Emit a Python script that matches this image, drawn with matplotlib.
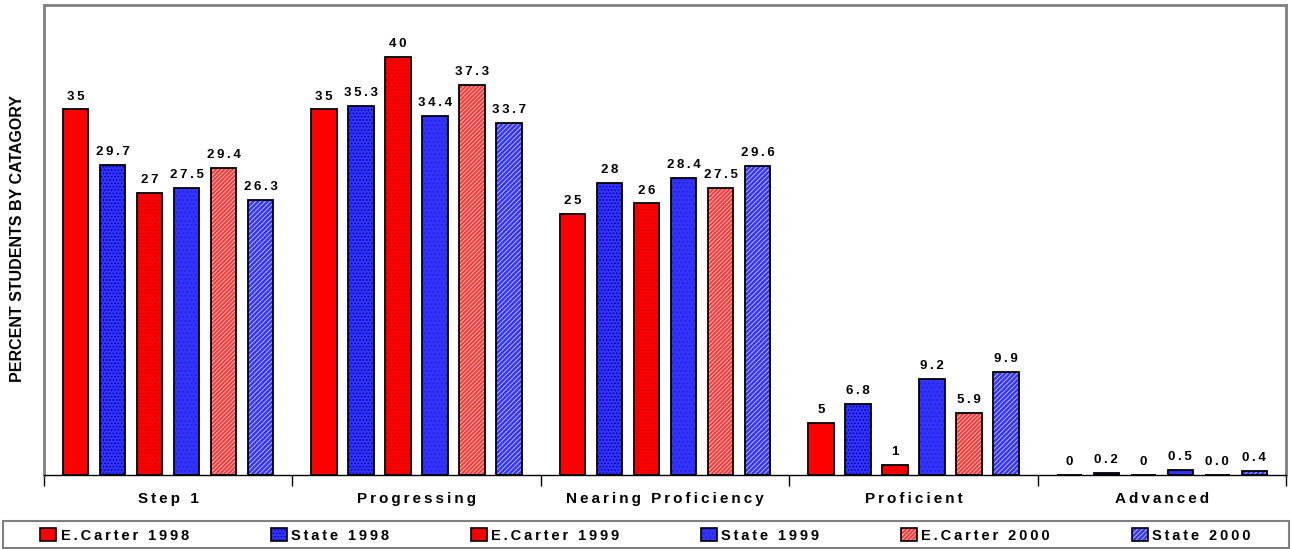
import matplotlib
matplotlib.use('Agg')
import matplotlib.pyplot as plt
from matplotlib.patches import Patch, Rectangle
import numpy as np

# data
categories = ['Step 1', 'Progressing', 'Nearing Proficiency', 'Proficient', 'Advanced']
series_names = ['E.Carter 1998', 'State 1998', 'E.Carter 1999', 'State 1999', 'E.Carter 2000', 'State 2000']
ecarter_1998 = [35, 35, 25, 5, 0]
state_1998 = [29.7, 35.3, 28, 6.8, 0.2]
ecarter_1999 = [27, 40, 26, 1, 0]
state_1999 = [27.5, 34.4, 28.4, 9.2, 0.5]
ecarter_2000 = [29.4, 37.3, 27.5, 5.9, 0.0]
state_2000 = [26.3, 33.7, 29.6, 9.9, 0.4]
value_labels = [
    ['35', '35', '25', '5', '0'],
    ['29.7', '35.3', '28', '6.8', '0.2'],
    ['27', '40', '26', '1', '0'],
    ['27.5', '34.4', '28.4', '9.2', '0.5'],
    ['29.4', '37.3', '27.5', '5.9', '0.0'],
    ['26.3', '33.7', '29.6', '9.9', '0.4'],
]
all_series = [ecarter_1998, state_1998, ecarter_1999, state_1999, ecarter_2000, state_2000]

# style per series: face colour, hatch, hatch colour
styles = [
    ('#ff0000', '', '#ff0000'),
    ('#3333ff', '.....', '#000099'),
    ('#ff0000', '.....', '#cc0000'),
    ('#3333ff', '....', '#2222cc'),
    ('#ff3333', '////////', '#ffc0c0'),
    ('#3333ff', '///////', '#b8b8ff'),
]

FONT = ['Liberation Sans', 'DejaVu Sans']
plt.rcParams['font.family'] = FONT
plt.rcParams['hatch.linewidth'] = 0.7

def spaced(s):
    # imitate wide letter spacing of the original
    return '\u2009'.join(s)

fig = plt.figure(figsize=(12.91, 5.49), dpi=100)
ax = fig.add_axes([44 / 1291, 74 / 549, 1242 / 1291, 470 / 549])

x = np.arange(len(categories))
step = 0.149
width = 0.102
handles = []
for i, vals in enumerate(all_series):
    fc, hatch, hc = styles[i]
    pos = x + (i - 2.5) * step
    ax.bar(pos, vals, width, color=fc, edgecolor=hc, hatch=hatch, linewidth=0, zorder=2)
    ax.bar(pos, vals, width, fill=False, edgecolor='black', linewidth=1.3, zorder=3)
    for px, v, lab in zip(pos, vals, value_labels[i]):
        ax.annotate(spaced(lab), (px, v), xytext=(0, 5), textcoords='offset points',
                    ha='center', va='bottom', fontsize=9.5, fontweight='bold')
    h1 = Patch(facecolor=fc, edgecolor=hc, hatch=hatch, linewidth=0)
    h2 = Patch(fill=False, edgecolor='black', linewidth=1.2)
    handles.append((h1, h2))

ax.set_xlim(-0.5, 4.5)
ax.set_ylim(0, 45)
ax.set_yticks([])
ax.set_xticks(np.arange(-0.5, 5, 1))
ax.set_xticklabels([])
ax.tick_params(axis='x', which='major', length=8, width=1, color='black')
ax.set_xticks(x, minor=True)
ax.set_xticklabels([spaced(c) for c in categories], minor=True, fontsize=11, fontweight='bold')
ax.tick_params(axis='x', which='minor', length=0, pad=12)

for side in ['left', 'top', 'right']:
    ax.spines[side].set_color('#808080')
    ax.spines[side].set_linewidth(2)
ax.spines['bottom'].set_color('black')
ax.spines['bottom'].set_linewidth(1)

fig.text(18 / 1291, 1 - 238 / 549, 'PERCENT STUDENTS BY CATAGORY', rotation=90,
         ha='center', va='center', fontsize=11.5, fontweight='bold')

# legend box across the whole width
fig.patches.append(Rectangle((3 / 1291, 1 / 549), 1286 / 1291, 27 / 549, transform=fig.transFigure,
                             fill=False, edgecolor='#808080', linewidth=1.5))
leg = fig.legend(handles, [spaced(n) for n in series_names], loc='center',
                 bbox_to_anchor=(0.5, 13.5 / 549), ncol=6,
                 prop={'weight': 'bold', 'size': 10.5, 'family': FONT},
                 handlelength=1.1, handleheight=0.9, handletextpad=0.3, columnspacing=5.6,
                 frameon=False, borderaxespad=0)

fig.savefig('out.png', dpi=100)
